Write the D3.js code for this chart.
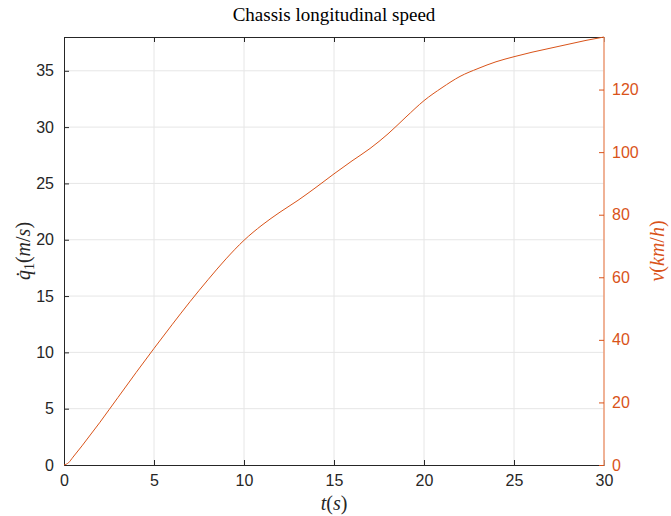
<!DOCTYPE html>
<html>
<head>
<meta charset="utf-8">
<script src="https://cdn.jsdelivr.net/npm/d3@7"></script>
<style>
  body { margin: 0; background: #fff; }
  svg { display: block; }
  .tick text { font-family: "Liberation Sans", Arial, sans-serif; font-size: 16px; }
  .math { font-family: "Liberation Serif", "DejaVu Serif", serif; }
</style>
</head>
<body>
<svg width="671" height="516"></svg>
<script>
// time (s) and chassis longitudinal speed (m/s)
var time  = [0, 0.25, 0.5, 1, 1.5, 2, 2.5, 3, 4, 5, 6, 7, 8, 9, 10, 11, 12, 13, 14, 15,
             16, 17, 18, 19, 20, 21, 22, 23, 24, 25, 26, 27, 28, 29, 30];
var speed = [0, 0.2, 0.7, 1.7, 2.75, 3.8, 4.9, 6.0, 8.2, 10.35, 12.45, 14.5, 16.45, 18.3, 19.95, 21.3, 22.45, 23.5, 24.65, 25.85,
             27.0, 28.1, 29.4, 30.9, 32.35, 33.5, 34.5, 35.2, 35.8, 36.25, 36.65, 37.0, 37.35, 37.7, 38.0];
var xTicks = [0, 5, 10, 15, 20, 25, 30];
var yTicks = [0, 5, 10, 15, 20, 25, 30, 35];
var kmhTicks = [0, 20, 40, 60, 80, 100, 120];

var data = time.map(function(t, i){ return {t: t, v: speed[i]}; });

var pLeft = 64, pRight = 604, pTop = 37, pBottom = 465;
var orange = '#D95319';
var dark = '#262626';

var svg = d3.select('svg');

var x = d3.scaleLinear().domain([0, 30]).range([pLeft, pRight]);
var y = d3.scaleLinear().domain([0, 38]).range([pBottom, pTop]);
var y2 = d3.scaleLinear().domain([0, 38 * 3.6]).range([pBottom, pTop]);

// grid
svg.append('g').selectAll('line')
    .data(xTicks.slice(1, -1))
    .enter().append('line')
    .attr('x1', function(d){ return x(d); }).attr('x2', function(d){ return x(d); })
    .attr('y1', pTop).attr('y2', pBottom)
    .attr('stroke', '#e6e6e6');
svg.append('g').selectAll('line')
    .data(yTicks.slice(1))
    .enter().append('line')
    .attr('y1', function(d){ return y(d); }).attr('y2', function(d){ return y(d); })
    .attr('x1', pLeft).attr('x2', pRight)
    .attr('stroke', '#e6e6e6');

// axes
function style(g, col){
    g.select('.domain').attr('stroke', col);
    g.selectAll('.tick line').attr('stroke', col);
    g.selectAll('.tick text').attr('fill', col);
}

var gx = svg.append('g')
    .attr('transform', 'translate(0,' + pBottom + ')')
    .call(d3.axisBottom(x).tickValues(xTicks).tickSizeInner(-5).tickSizeOuter(0).tickPadding(10));
style(gx, dark);

var gxt = svg.append('g')
    .attr('transform', 'translate(0,' + pTop + ')')
    .call(d3.axisTop(x).tickValues(xTicks).tickSizeInner(-5).tickSizeOuter(0).tickFormat(''));
style(gxt, dark);

var gy = svg.append('g')
    .attr('transform', 'translate(' + pLeft + ',0)')
    .call(d3.axisLeft(y).tickValues(yTicks).tickSizeInner(-5).tickSizeOuter(0).tickPadding(10));
style(gy, dark);

var gy2 = svg.append('g')
    .attr('transform', 'translate(' + pRight + ',0)')
    .call(d3.axisRight(y2).tickValues(kmhTicks).tickSizeInner(-5).tickSizeOuter(0).tickPadding(8));
style(gy2, orange);
gy2.select('.domain')
    .attr('d', 'M0,' + pBottom + 'V' + pTop)
    .attr('stroke', '#ec9f7c')
    .attr('stroke-width', 1.6);

// speed curve
var line = d3.line()
    .x(function(d){ return x(d.t); })
    .y(function(d){ return y(d.v); })
    .curve(d3.curveMonotoneX);

svg.append('path')
    .datum(data)
    .attr('d', line)
    .attr('fill', 'none')
    .attr('stroke', orange)
    .attr('stroke-width', 1);

// title and labels
svg.append('text')
    .attr('class', 'math')
    .attr('x', (pLeft + pRight) / 2).attr('y', 21)
    .attr('text-anchor', 'middle')
    .attr('font-size', 19)
    .attr('fill', '#000')
    .text('Chassis longitudinal speed');

var xl = svg.append('text')
    .attr('class', 'math')
    .attr('x', (pLeft + pRight) / 2).attr('y', 510)
    .attr('text-anchor', 'middle')
    .attr('font-size', 20)
    .attr('fill', dark);
xl.append('tspan').attr('font-style', 'italic').text('t');
xl.append('tspan').text('(');
xl.append('tspan').attr('font-style', 'italic').text('s');
xl.append('tspan').text(')');

var yl = svg.append('text')
    .attr('class', 'math')
    .attr('transform', 'translate(30,' + ((pTop + pBottom) / 2) + ') rotate(-90)')
    .attr('text-anchor', 'middle')
    .attr('font-size', 20)
    .attr('fill', dark);
yl.append('tspan').attr('font-style', 'italic').text('q\u0307');
yl.append('tspan').attr('font-size', 14).attr('dy', 4).text('1');
yl.append('tspan').attr('dy', -4).text('(');
yl.append('tspan').attr('font-style', 'italic').text('m');
yl.append('tspan').text('/');
yl.append('tspan').attr('font-style', 'italic').text('s');
yl.append('tspan').text(')');

var yl2 = svg.append('text')
    .attr('class', 'math')
    .attr('transform', 'translate(664,' + ((pTop + pBottom) / 2) + ') rotate(-90)')
    .attr('text-anchor', 'middle')
    .attr('font-size', 20)
    .attr('fill', orange);
yl2.append('tspan').attr('font-style', 'italic').text('v');
yl2.append('tspan').text('(');
yl2.append('tspan').attr('font-style', 'italic').text('km');
yl2.append('tspan').text('/');
yl2.append('tspan').attr('font-style', 'italic').text('h');
yl2.append('tspan').text(')');
</script>
</body>
</html>
